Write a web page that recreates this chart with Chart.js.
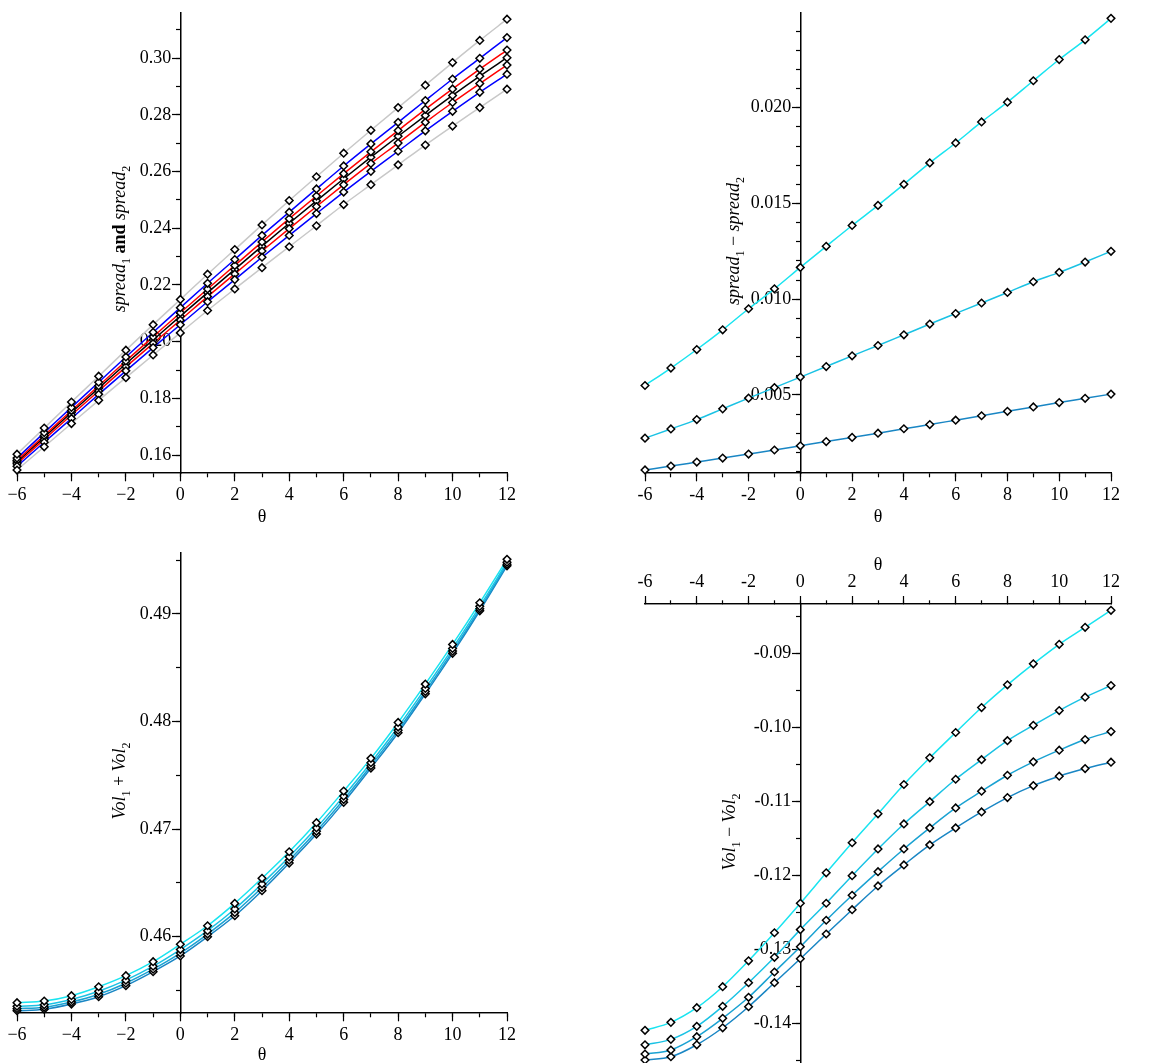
<!DOCTYPE html>
<html><head><meta charset="utf-8">
<script src="https://cdn.jsdelivr.net/npm/chart.js@4.4.1/dist/chart.umd.min.js"></script>
<style>
html,body{margin:0;padding:0;background:#fff;width:1156px;height:1063px;overflow:hidden;position:relative}
.p{position:absolute}
</style></head><body>
<div class="p" style="left:0px;top:-20px"><canvas id="c1" width="578" height="551"></canvas></div>
<div class="p" style="left:578px;top:-20px"><canvas id="c2" width="578" height="551"></canvas></div>
<div class="p" style="left:0px;top:531px"><canvas id="c3" width="578" height="532"></canvas></div>
<div class="p" style="left:578px;top:531px"><canvas id="c4" width="578" height="560"></canvas></div>
<script>
// ---------- data ----------
const theta = [-6,-5,-4,-3,-2,-1,0,1,2,3,4,5,6,7,8,9,10,11,12];

// panel 1: spread_1 and spread_2
const spreadGrayHi = [0.1603,0.1695,0.1787,0.1878,0.1970,0.2060,0.2149,0.2238,0.2325,0.2412,0.2498,0.2582,0.2665,0.2746,0.2826,0.2905,0.2985,0.3063,0.3138];
const spreadBlueHi = [0.1589,0.1679,0.1768,0.1857,0.1946,0.2033,0.2120,0.2206,0.2290,0.2375,0.2457,0.2539,0.2620,0.2698,0.2774,0.2851,0.2927,0.3000,0.3073];
const spreadRedHi  = [0.1581,0.1669,0.1757,0.1844,0.1932,0.2017,0.2102,0.2186,0.2269,0.2352,0.2434,0.2514,0.2593,0.2670,0.2745,0.2820,0.2892,0.2962,0.3029];
const spreadBlack  = [0.1575,0.1663,0.1750,0.1836,0.1922,0.2006,0.2090,0.2173,0.2255,0.2337,0.2418,0.2497,0.2575,0.2651,0.2725,0.2798,0.2869,0.2937,0.3002];
const spreadRedLo  = [0.1569,0.1655,0.1741,0.1826,0.1911,0.1994,0.2076,0.2159,0.2239,0.2320,0.2399,0.2477,0.2554,0.2629,0.2701,0.2774,0.2844,0.2911,0.2976];
const spreadBlueLo = [0.1560,0.1645,0.1729,0.1814,0.1897,0.1979,0.2060,0.2141,0.2219,0.2298,0.2375,0.2452,0.2528,0.2601,0.2672,0.2744,0.2813,0.2880,0.2944];
const spreadGrayLo = [0.1547,0.1629,0.1711,0.1793,0.1873,0.1953,0.2031,0.2110,0.2186,0.2261,0.2335,0.2409,0.2484,0.2554,0.2624,0.2694,0.2761,0.2826,0.2891];

// panel 2: spread_1 - spread_2
const diffHi  = [0.00549,0.00640,0.00737,0.00840,0.00950,0.01054,0.01166,0.01276,0.01385,0.01490,0.01600,0.01712,0.01816,0.01926,0.02029,0.02141,0.02252,0.02355,0.02467];
const diffMid = [0.00274,0.00322,0.00371,0.00427,0.00483,0.00538,0.00593,0.00648,0.00704,0.00758,0.00814,0.00870,0.00925,0.00980,0.01035,0.01091,0.01140,0.01194,0.01250];
const diffLo  = [0.00108,0.00128,0.00149,0.00170,0.00191,0.00212,0.00234,0.00256,0.00278,0.00300,0.00323,0.00345,0.00368,0.00391,0.00414,0.00437,0.00460,0.00482,0.00504];

// panel 3: Vol_1 + Vol_2
const volSumA = [0.45387,0.45402,0.45452,0.45535,0.45638,0.45768,0.45930,0.46102,0.46310,0.46543,0.46790,0.47060,0.47354,0.47658,0.47992,0.48348,0.48717,0.49104,0.49508];
const volSumB = [0.45353,0.45367,0.45417,0.45493,0.45596,0.45726,0.45881,0.46056,0.46258,0.46491,0.46743,0.47012,0.47307,0.47618,0.47949,0.48308,0.48680,0.49071,0.49481];
const volSumC = [0.45331,0.45344,0.45393,0.45465,0.45568,0.45698,0.45848,0.46025,0.46224,0.46457,0.46711,0.46980,0.47275,0.47590,0.47920,0.48280,0.48655,0.49048,0.49463];
const volSumD = [0.45312,0.45325,0.45374,0.45442,0.45545,0.45675,0.45821,0.46000,0.46195,0.46428,0.46685,0.46954,0.47249,0.47568,0.47896,0.48258,0.48634,0.49030,0.49448];

// panel 4: Vol_1 - Vol_2
const volDiffA = [-0.14099,-0.13991,-0.13793,-0.13509,-0.13158,-0.12779,-0.12380,-0.11968,-0.11562,-0.11170,-0.10774,-0.10413,-0.10071,-0.09733,-0.09426,-0.09142,-0.08878,-0.08648,-0.08418];
const volDiffB = [-0.14294,-0.14221,-0.14045,-0.13774,-0.13455,-0.13111,-0.12737,-0.12380,-0.12007,-0.11646,-0.11308,-0.11006,-0.10703,-0.10438,-0.10181,-0.09973,-0.09774,-0.09593,-0.09436];
const volDiffC = [-0.14419,-0.14365,-0.14185,-0.13936,-0.13652,-0.13310,-0.12968,-0.12610,-0.12272,-0.11953,-0.11646,-0.11361,-0.11091,-0.10865,-0.10649,-0.10468,-0.10310,-0.10166,-0.10058];
const volDiffD = [-0.14500,-0.14456,-0.14294,-0.14064,-0.13779,-0.13455,-0.13130,-0.12796,-0.12467,-0.12146,-0.11862,-0.11591,-0.11361,-0.11145,-0.10951,-0.10789,-0.10662,-0.10559,-0.10472];

// tick labels
const xTickLabelsA = {'-6':'\u22126','-4':'\u22124','-2':'\u22122','0':'0','2':'2','4':'4','6':'6','8':'8','10':'10','12':'12'};
const xTickLabelsB = {'-6':'-6','-4':'-4','-2':'-2','0':'0','2':'2','4':'4','6':'6','8':'8','10':'10','12':'12'};

// ---------- styling / helpers ----------
const SERIF = '"Liberation Serif", "Times New Roman", serif';
const tickFont = {family: SERIF, size: 18};
const CYAN = ['#19E4F0', '#1AC2E4', '#1AA2D2', '#1986C4'];

function pts(arr){ return theta.map((t,i)=>({x:t, y:arr[i]})); }

function lineSet(arr, color){
  return {data: pts(arr), showLine:true, borderColor:color, borderWidth:1.5, pointRadius:0,
          cubicInterpolationMode:'monotone', clip:false, order:2};
}
function markSet(arr){
  return {data: pts(arr), showLine:false, pointStyle:'rectRot', pointRadius:3.8, pointBorderWidth:1.5,
          pointBorderColor:'#000', pointBackgroundColor:'#fff', clip:false, order:1};
}

const titlePlugin = {
  id: 'axisTitles',
  afterDraw(chart, args, o){
    const ctx = chart.ctx, a = chart.chartArea;
    ctx.save();
    ctx.fillStyle = '#000';
    ctx.font = '18px ' + SERIF;
    ctx.textAlign = 'center';
    ctx.textBaseline = 'middle';
    const tx = (a.left + a.right)/2;
    const ty = o.thetaTop ? a.top - o.thetaDy : a.bottom + o.thetaDy;
    ctx.fillText('\u03b8', tx, ty);
    // rotated y title
    const x0 = chart.scales.x.getPixelForValue(0) + o.yDx;
    const yc = (a.top + a.bottom)/2 + o.yDy;
    ctx.textAlign = 'left';
    ctx.textBaseline = 'alphabetic';
    let total = 0;
    const w = o.segs.map(s => { ctx.font = s[1]; const m = ctx.measureText(s[0]).width; total += m; return m; });
    ctx.translate(x0, yc);
    ctx.rotate(-Math.PI/2);
    let cx = -total/2;
    o.segs.forEach((s,i) => { ctx.font = s[1]; ctx.fillText(s[0], cx, s[2] ? 5 : 0); cx += w[i]; });
    ctx.restore();
  }
};

const IT = 'italic 18px ' + SERIF, RG = '18px ' + SERIF, BD = 'bold 18px ' + SERIF, SB = '12px ' + SERIF;

function makeChart(id, cfg){
  const gridMaj = {drawOnChartArea:false, drawTicks:true, tickLength:8, tickColor:'#000', tickWidth:1.2};
  const border = {display:true, color:'#000', width:1.3};
  const scales = {
    x: {type:'linear', axis:'x', min:-6, max:12,
        position: cfg.top ? 'top' : {y: cfg.yMin},
        ticks:{stepSize:2, autoSkip:false, maxRotation:0, font:tickFont, color:'#000', padding:3,
               callback: v => cfg.xLabels[String(v)]},
        grid: gridMaj, border: border},
    xm: {type:'linear', axis:'x', min:-6, max:12,
        position: {y: cfg.top ? cfg.yMax : cfg.yMin},
        ticks:{stepSize:1, display:false},
        grid:{drawOnChartArea:false, drawTicks:true, tickLength: cfg.top ? -4 : 4, tickColor:'#000', tickWidth:1.2},
        border: border},
    y: {type:'linear', axis:'y', min:cfg.yMin, max:cfg.yMax, position:{x:0},
        ticks:{stepSize:cfg.yStep, includeBounds:false, autoSkip:false, font:tickFont, color:'#000', padding:2,
               callback: v => v.toFixed(cfg.yDec) + '  '},
        grid: gridMaj, border: border},
    ym: {type:'linear', axis:'y', min:cfg.yMin, max:cfg.yMax, position:{x:0},
        ticks:{stepSize:cfg.yMinor, includeBounds:false, display:false},
        grid:{drawOnChartArea:false, drawTicks:true, tickLength:4, tickColor:'#000', tickWidth:1.2},
        border: border}
  };
  if (cfg.top) scales.x.afterFit = s => { s.height = 60; };
  const datasets = [];
  cfg.series.forEach(s => datasets.push(lineSet(s[0], s[1])));
  cfg.series.forEach(s => datasets.push(markSet(s[0])));
  return new Chart(document.getElementById(id), {
    type:'scatter',
    data:{datasets},
    options:{
      responsive:false, animation:false, events:[],
      layout:{padding:cfg.pad},
      plugins:{legend:{display:false}, tooltip:{enabled:false}, axisTitles: cfg.titles},
      scales
    },
    plugins:[titlePlugin]
  });
}

makeChart('c1', {
  yMin:0.15365, yMax:0.31599, yStep:0.02, yMinor:0.01, yDec:2, xLabels:xTickLabelsA,
  pad:{left:17, right:71, top:33, bottom:58},
  series:[[spreadGrayHi,'#C8C8C8'],[spreadGrayLo,'#C8C8C8'],[spreadBlueHi,'#0000FF'],[spreadBlueLo,'#0000FF'],
          [spreadRedHi,'#FF0000'],[spreadRedLo,'#FF0000'],[spreadBlack,'#000000']],
  titles:{thetaDy:44, yDx:-55, yDy:-4,
          segs:[['spread',IT],['1',SB,1],[' and ',BD],['spread',IT],['2',SB,1]]}
});

makeChart('c2', {
  yMin:0.000919, yMax:0.02495, yStep:0.005, yMinor:0.001, yDec:3, xLabels:xTickLabelsB,
  pad:{left:67, right:45, top:33, bottom:58},
  series:[[diffHi,CYAN[0]],[diffMid,CYAN[1]],[diffLo,CYAN[3]]],
  titles:{thetaDy:44, yDx:-61, yDy:-2,
          segs:[['spread',IT],['1',SB,1],[' \u2212 ',RG],['spread',IT],['2',SB,1]]}
});

makeChart('c3', {
  yMin:0.45291, yMax:0.49567, yStep:0.01, yMinor:0.005, yDec:2, xLabels:xTickLabelsA,
  pad:{left:17, right:71, top:22, bottom:50},
  series:[[volSumA,CYAN[0]],[volSumB,CYAN[1]],[volSumC,CYAN[2]],[volSumD,CYAN[3]]],
  titles:{thetaDy:42, yDx:-55, yDy:-2,
          segs:[['Vol',IT],['1',SB,1],[' + ',RG],['Vol',IT],['2',SB,1]]}
});

makeChart('c4', {
  top:true,
  yMin:-0.14527, yMax:-0.08333, yStep:0.01, yMinor:0.005, yDec:2, xLabels:xTickLabelsB,
  pad:{left:67, right:45, top:13, bottom:29},
  series:[[volDiffA,CYAN[0]],[volDiffB,CYAN[1]],[volDiffC,CYAN[2]],[volDiffD,CYAN[3]]],
  titles:{thetaTop:true, thetaDy:39, yDx:-65, yDy:-1,
          segs:[['Vol',IT],['1',SB,1],[' \u2212 ',RG],['Vol',IT],['2',SB,1]]}
});
</script>
</body></html>
